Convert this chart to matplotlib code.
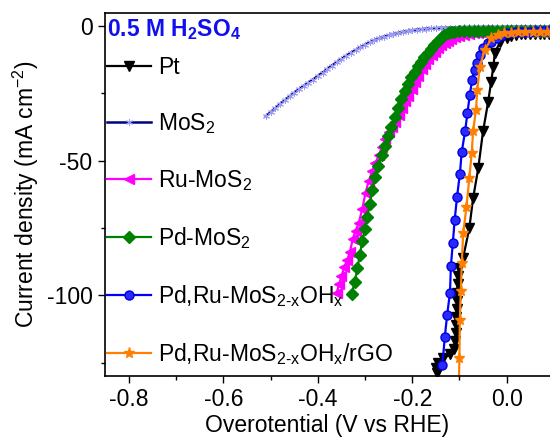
import matplotlib
matplotlib.use("Agg")
import matplotlib.pyplot as plt
from matplotlib.ticker import MultipleLocator

plt.rcParams['font.family'] = ['Liberation Sans', 'DejaVu Sans']
plt.rcParams['mathtext.fontset'] = 'custom'
plt.rcParams['mathtext.rm'] = 'Liberation Sans'
plt.rcParams['mathtext.it'] = 'Liberation Sans:italic'
plt.rcParams['mathtext.bf'] = 'Liberation Sans:bold'
plt.rcParams['axes.unicode_minus'] = False

# ---------------- data (V vs RHE, mA cm^-2) ----------------
pt_v = [-0.148, -0.150, -0.145, -0.135, -0.120, -0.112, -0.110, -0.108, -0.107, -0.107,
        -0.106, -0.105, -0.105, -0.104, -0.103, -0.100, -0.092, -0.079, -0.071, -0.060,
        -0.050, -0.039, -0.033, -0.028, -0.025, -0.014, 0.000, 0.010, 0.020, 0.030,
        0.040, 0.050, 0.060, 0.070, 0.080, 0.090]
pt_j = [-129, -127, -125, -123.5, -122, -120, -117, -114, -111, -108,
        -105, -102, -99, -96, -93, -90, -86, -75.1, -64, -52.8,
        -39.2, -28.1, -21, -15.1, -10, -6, -4.3, -3.6, -3.3, -3.1,
        -3.0, -3.0, -2.9, -2.9, -2.9, -2.9]

mos2_v = [-0.51, -0.50, -0.49, -0.48, -0.47, -0.46, -0.45, -0.44, -0.43, -0.42,
          -0.41, -0.40, -0.39, -0.38, -0.37, -0.36, -0.35, -0.34, -0.33, -0.32,
          -0.31, -0.30, -0.29, -0.28, -0.27, -0.26, -0.25, -0.24, -0.23, -0.22,
          -0.21, -0.20, -0.19, -0.18, -0.17, -0.16, -0.15, -0.14, -0.13, -0.12,
          -0.11, -0.10, -0.09, -0.08, -0.07, -0.06, -0.05, -0.04, -0.03, -0.02,
          -0.01, 0.00, 0.01, 0.02, 0.03, 0.04, 0.05, 0.06, 0.07, 0.08, 0.09]
mos2_j = [-33.5, -32.0, -30.5, -29.0, -27.6, -26.2, -24.8, -23.5, -22.3, -21.1,
          -19.9, -18.6, -17.3, -16.0, -14.7, -13.5, -12.3, -11.1, -10.0, -9.0,
          -8.0, -7.0, -6.1, -5.3, -4.6, -4.0, -3.5, -3.0, -2.6, -2.2,
          -1.9, -1.6, -1.4, -1.2, -1.0, -0.9, -0.8, -0.7, -0.7, -0.6,
          -0.6, -0.6, -0.5, -0.5, -0.5, -0.5, -0.4, -0.4, -0.4, -0.4,
          -0.4, -0.3, -0.3, -0.3, -0.3, -0.3, -0.3, -0.3, -0.3, -0.3, -0.3]

ru_v = [-0.360, -0.355, -0.350, -0.344, -0.338, -0.332, -0.326, -0.320, -0.313, -0.306,
        -0.299, -0.292, -0.285, -0.278, -0.271, -0.264, -0.257, -0.250, -0.243, -0.236,
        -0.229, -0.222, -0.215, -0.208, -0.201, -0.194, -0.187, -0.180, -0.173, -0.166,
        -0.159, -0.152, -0.145, -0.138, -0.131, -0.124, -0.117, -0.110, -0.100, -0.090,
        -0.080, -0.070, -0.060, -0.050, -0.040, -0.030, -0.020, -0.010, 0.000, 0.010,
        0.020, 0.030, 0.040, 0.050, 0.060, 0.070, 0.080, 0.090]
ru_j = [-99, -96, -93, -89.5, -87, -84, -79, -76, -73, -68,
        -62, -57.5, -54, -51, -48, -45, -42, -39.5, -37.5, -35.5,
        -33, -30.5, -28, -26, -23.5, -21, -18.5, -16, -14, -12.3,
        -10.8, -9.5, -8.3, -7.2, -6.3, -5.5, -4.8, -4.2, -3.6, -3.2,
        -2.9, -2.7, -2.6, -2.5, -2.5, -2.4, -2.4, -2.3, -2.3, -2.3,
        -2.2, -2.2, -2.2, -2.2, -2.2, -2.2, -2.2, -2.2]

pd_v = [-0.328, -0.322, -0.316, -0.311, -0.306, -0.300, -0.295, -0.290, -0.285, -0.279,
        -0.272, -0.265, -0.258, -0.251, -0.244, -0.237, -0.230, -0.223, -0.216, -0.209,
        -0.202, -0.195, -0.188, -0.181, -0.174, -0.167, -0.160, -0.153, -0.146, -0.139,
        -0.132, -0.125, -0.118, -0.111, -0.100, -0.090, -0.080, -0.070, -0.060, -0.050,
        -0.040, -0.030, -0.020, -0.010, 0.000, 0.010, 0.020, 0.030, 0.040, 0.050,
        0.060, 0.070, 0.080, 0.090]
pd_j = [-99.5, -95, -90, -85, -80, -75.5, -71, -66, -61, -56,
        -52, -48, -44.5, -41, -37.5, -34, -30.5, -27, -24, -21.5,
        -19, -17, -15, -13.3, -11.6, -10, -8.5, -7, -5.5, -4.3,
        -3.4, -2.8, -2.4, -2.1, -2.0, -2.0, -1.9, -1.9, -1.9, -1.9,
        -1.8, -1.8, -1.8, -1.8, -1.8, -1.8, -1.8, -1.8, -1.8, -1.8,
        -1.8, -1.8, -1.8, -1.8]

pdru_v = [-0.136, -0.131, -0.126, -0.120, -0.118, -0.114, -0.110, -0.105, -0.099, -0.095,
          -0.088, -0.083, -0.078, -0.073, -0.068, -0.062, -0.057, -0.050, -0.039, -0.032,
          -0.020, -0.010, 0.000, 0.010, 0.020, 0.030, 0.040, 0.050, 0.060, 0.070,
          0.080, 0.090]
pdru_j = [-125.8, -115.6, -107.3, -99.2, -89.1, -80.7, -72, -63.4, -54.9, -46.7,
          -39.2, -32.4, -25.6, -20, -16.5, -13.9, -10.8, -8.3, -6.4, -5.8,
          -4.5, -3.5, -2.8, -2.5, -2.3, -2.2, -2.1, -2.1, -2.0, -2.0,
          -2.0, -2.0]

rgo_v = [-0.101, -0.100, -0.099, -0.097, -0.095, -0.092, -0.085, -0.079, -0.074, -0.071,
         -0.065, -0.062, -0.057, -0.046, -0.032, -0.018, -0.005, 0.010, 0.025, 0.040,
         0.055, 0.070, 0.085]
rgo_j = [-132, -123.4, -109.1, -98.6, -88.1, -77, -67.1, -56.5, -47.3, -39.2,
         -31.2, -23.8, -15.1, -8.9, -4.6, -3.3, -2.8, -2.5, -2.4, -2.3,
         -2.3, -2.3, -2.3]

labels = ['Pt', 'MoS$_\\mathregular{2}$', 'Ru-MoS$_\\mathregular{2}$', 'Pd-MoS$_\\mathregular{2}$',
          'Pd,Ru-MoS$_\\mathregular{2\\text{-}x}$OH$_\\mathregular{x}$',
          'Pd,Ru-MoS$_\\mathregular{2\\text{-}x}$OH$_\\mathregular{x}$/rGO']
title_text = '0.5 M H$_\\mathbf{2}$SO$_\\mathbf{4}$'

# ---------------- figure ----------------
fig = plt.figure(figsize=(5.5, 4.41), dpi=100)
ax = fig.add_axes([0.191, 0.1474, 0.809, 0.8231])

lw = 1.6
ax.plot(pt_v, pt_j, color='black', lw=lw, marker='v', ms=7, label=labels[0])
ax.plot(mos2_v, mos2_j, color='#000080', lw=1.8, marker=(6, 2, 0), ms=5,
        mec='#9a9af0', mfc='#9a9af0', mew=0.7, label=labels[1])
ax.plot(ru_v, ru_j, color='#ff00ff', lw=lw, marker='<', ms=7, label=labels[2])
ax.plot(pd_v, pd_j, color='#008000', lw=lw, marker='D', ms=6, label=labels[3])
ax.plot(pdru_v, pdru_j, color='#0000ff', lw=lw, marker='o', ms=6.5,
        mfc='#2a2aff', mec='#0000dd', label=labels[4])
ax.plot(rgo_v, rgo_j, color='#ff8000', lw=lw, marker='*', ms=8, label=labels[5])

ax.set_xlim(-0.851, 0.092)
ax.set_ylim(-130, 4.8)
ax.xaxis.set_major_locator(MultipleLocator(0.2))
ax.xaxis.set_minor_locator(MultipleLocator(0.1))
ax.yaxis.set_major_locator(MultipleLocator(50))
ax.yaxis.set_minor_locator(MultipleLocator(25))
ax.xaxis.set_major_formatter(matplotlib.ticker.FuncFormatter(lambda v, p: f'{v:.1f}'.replace('-0.0', '0.0')))
ax.yaxis.set_major_formatter(matplotlib.ticker.FuncFormatter(lambda v, p: f'{v:.0f}'))

ax.tick_params(which='major', direction='out', length=5, width=1.0, labelsize=16.5, pad=4)
ax.tick_params(which='minor', direction='out', length=3, width=1.0)
for s in ax.spines.values():
    s.set_linewidth(1.2)
ax.spines['right'].set_visible(False)

ax.set_xlabel('Overotential (V vs RHE)', fontsize=16.5, labelpad=2)
ax.set_ylabel('Current density (mA cm$^{\\mathregular{-2}}$)', fontsize=16.5, labelpad=4)

ax.text(0.005, 0.955, title_text, transform=ax.transAxes, fontsize=16.5, fontweight='bold',
        color='#1010ee', ha='left', va='center')

leg = ax.legend(loc='upper left', bbox_to_anchor=(0.0, 0.888), frameon=False, fontsize=16.5,
                handlelength=1.9, handletextpad=0.3, labelspacing=1.4, borderaxespad=0.0,
                borderpad=0.1, numpoints=1)

fig.savefig('out.png', dpi=100, facecolor='white')
